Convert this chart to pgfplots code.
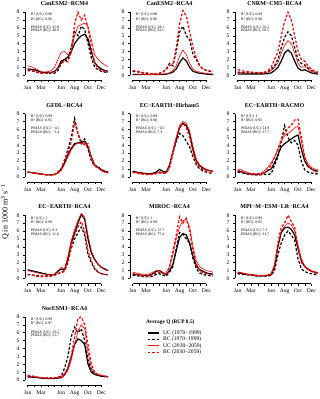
\documentclass[border=0pt]{standalone}
\usepackage{fontspec}
\setmainfont{Liberation Serif}
\usepackage{pgfplots}
\usepackage{pgfplotstable}
\pgfplotsset{compat=1.18}

% columns: month position (1 = 1 Jan, 13 = 31 Dec), UC/BC 1970-1999, UC/BC 2030-2059
\pgfplotstableread{
m uc1 bc1 uc2 bc2
1 0.80 0.60 1.20 0.70
1.5 0.75 0.55 1.10 0.60
2 0.70 0.50 0.90 0.50
2.5 0.55 0.35 0.70 0.35
3 0.40 0.25 0.45 0.30
3.5 0.35 0.30 0.40 0.25
4 0.35 0.20 0.45 0.30
4.5 0.35 0.30 0.60 0.35
5 0.50 0.25 1.00 0.40
5.5 0.90 0.60 2.00 0.90
6 1.80 1.50 2.90 1.60
6.5 2.00 1.80 3.00 1.80
7 2.30 2.00 2.60 1.70
7.5 3.00 3.50 2.80 3.00
8 4.00 5.50 5.00 6.50
8.5 4.60 5.00 6.20 8.00
9 5.00 6.20 6.40 7.00
9.5 5.20 5.80 6.60 7.60
10 4.60 4.00 6.20 6.00
10.5 3.00 2.20 4.50 3.50
11 1.60 1.00 2.60 1.50
11.5 1.10 0.70 2.00 0.90
12 0.80 0.50 1.60 0.60
12.5 0.60 0.40 1.30 0.50
13 0.50 0.35 1.10 0.40
}\tA
\pgfplotstableread{
m uc1 bc1 uc2 bc2
1 0.10 0.50 0.15 0.60
1.5 0.10 0.45 0.15 0.55
2 0.10 0.40 0.12 0.45
2.5 0.10 0.30 0.12 0.35
3 0.08 0.25 0.10 0.30
3.5 0.08 0.20 0.10 0.25
4 0.08 0.20 0.10 0.20
4.5 0.08 0.20 0.10 0.20
5 0.10 0.25 0.12 0.25
5.5 0.10 0.40 0.15 0.40
6 0.15 0.80 0.20 0.70
6.5 0.25 1.50 0.30 1.20
7 0.40 1.20 0.60 1.40
7.5 0.80 3.00 1.20 3.50
8 1.60 5.50 2.40 6.50
8.5 2.20 6.20 3.20 8.20
9 1.80 5.00 2.60 7.50
9.5 1.00 4.50 1.50 5.50
10 0.50 2.60 0.80 3.50
10.5 0.35 2.00 0.50 2.20
11 0.25 1.20 0.40 1.20
11.5 0.20 0.80 0.30 0.80
12 0.15 0.60 0.25 0.60
12.5 0.10 0.50 0.20 0.55
13 0.10 0.45 0.15 0.50
}\tB
\pgfplotstableread{
m uc1 bc1 uc2 bc2
1 0.15 0.40 0.35 0.70
1.5 0.15 0.35 0.33 0.60
2 0.15 0.30 0.30 0.50
2.5 0.15 0.28 0.30 0.45
3 0.15 0.25 0.30 0.40
3.5 0.15 0.25 0.30 0.35
4 0.15 0.25 0.30 0.35
4.5 0.15 0.25 0.30 0.35
5 0.18 0.28 0.32 0.40
5.5 0.20 0.35 0.40 0.60
6 0.30 0.70 0.60 1.00
6.5 0.60 1.20 1.00 2.00
7 1.00 2.00 1.60 3.00
7.5 1.80 3.50 2.80 5.00
8 2.80 4.80 3.80 6.80
8.5 3.20 5.50 4.40 8.00
9 2.80 5.00 4.00 7.00
9.5 1.80 3.50 2.80 5.00
10 0.90 2.00 1.50 3.00
10.5 0.60 1.50 1.00 2.00
11 0.70 1.30 1.10 1.80
11.5 0.50 0.90 0.80 1.20
12 0.30 0.60 0.50 0.80
12.5 0.20 0.40 0.35 0.50
13 0.15 0.30 0.30 0.40
}\tC
\pgfplotstableread{
m uc1 bc1 uc2 bc2
1 0.60 0.60 0.55 0.60
1.5 0.55 0.55 0.52 0.55
2 0.50 0.50 0.48 0.50
2.5 0.42 0.42 0.40 0.42
3 0.35 0.35 0.35 0.35
3.5 0.30 0.30 0.30 0.30
4 0.25 0.25 0.25 0.25
4.5 0.25 0.25 0.25 0.25
5 0.30 0.30 0.28 0.30
5.5 0.50 0.60 0.45 0.60
6 1.00 0.90 0.80 1.00
6.5 1.80 2.00 1.60 2.20
7 2.80 3.50 2.50 3.00
7.5 3.60 5.00 3.40 4.50
8 4.20 7.40 4.00 6.80
8.5 4.30 5.50 4.30 5.50
9 4.40 4.20 4.20 4.50
9.5 4.50 4.80 4.30 4.00
10 3.80 3.50 3.80 4.20
10.5 2.50 2.00 2.50 2.20
11 1.50 1.40 1.50 1.30
11.5 1.20 1.30 1.10 1.20
12 0.90 0.90 0.80 0.80
12.5 0.70 0.70 0.60 0.60
13 0.60 0.60 0.50 0.50
}\tD
\pgfplotstableread{
m uc1 bc1 uc2 bc2
1 0.70 0.60 0.60 0.55
1.5 0.62 0.55 0.55 0.50
2 0.55 0.45 0.50 0.42
2.5 0.48 0.38 0.42 0.35
3 0.42 0.32 0.38 0.30
3.5 0.40 0.30 0.35 0.30
4 0.45 0.35 0.40 0.32
4.5 0.60 0.45 0.50 0.40
5 0.95 0.55 0.65 0.50
5.5 0.70 0.45 0.55 0.45
6 0.60 0.50 0.50 0.50
6.5 1.50 1.20 1.40 1.20
7 3.20 3.00 3.30 3.00
7.5 4.80 4.50 5.00 4.80
8 6.20 5.50 6.50 6.30
8.5 6.80 5.20 7.00 6.80
9 6.50 4.50 6.80 6.20
9.5 5.50 3.80 5.80 5.00
10 3.50 2.50 3.80 3.00
10.5 2.00 1.50 2.20 1.80
11 1.40 1.00 1.50 1.20
11.5 1.10 0.75 1.20 0.90
12 0.90 0.60 0.90 0.70
12.5 0.80 0.50 0.80 0.60
13 0.70 0.40 0.70 0.50
}\tE
\pgfplotstableread{
m uc1 bc1 uc2 bc2
1 0.70 0.60 1.00 0.80
1.5 0.65 0.55 0.90 0.70
2 0.50 0.45 0.70 0.55
2.5 0.40 0.35 0.55 0.40
3 0.35 0.30 0.45 0.30
3.5 0.30 0.25 0.40 0.25
4 0.30 0.25 0.40 0.25
4.5 0.35 0.25 0.50 0.30
5 0.50 0.30 0.80 0.50
5.5 0.80 0.30 1.20 0.90
6 1.00 0.40 1.80 1.50
6.5 1.80 1.50 2.50 2.50
7 2.80 2.50 3.50 3.50
7.5 3.80 4.50 4.50 4.80
8 4.20 6.50 5.20 5.50
8.5 4.50 5.00 5.50 6.20
9 4.80 4.30 5.80 6.50
9.5 5.10 4.60 6.20 7.20
10 5.30 4.00 6.40 7.30
10.5 3.50 2.00 4.50 5.00
11 2.00 0.90 2.50 2.50
11.5 1.30 0.60 1.60 1.40
12 1.00 0.50 1.20 1.00
12.5 0.80 0.40 1.00 0.70
13 0.70 0.35 0.90 0.60
}\tF
\pgfplotstableread{
m uc1 bc1 uc2 bc2
1 1.10 0.50 1.00 0.50
1.5 1.00 0.45 0.90 0.45
2 0.90 0.40 0.80 0.35
2.5 0.80 0.35 0.70 0.25
3 0.70 0.30 0.60 0.20
3.5 0.60 0.30 0.55 0.20
4 0.50 0.30 0.50 0.25
4.5 0.45 0.30 0.45 0.30
5 0.50 0.40 0.55 0.40
5.5 0.90 0.60 1.00 0.60
6 1.20 0.80 1.40 0.70
6.5 1.10 1.00 1.20 0.90
7 2.50 2.00 2.80 2.20
7.5 4.50 3.80 4.80 4.00
8 5.80 5.00 6.20 5.50
8.5 7.00 5.80 7.40 6.50
9 8.10 6.50 8.20 7.20
9.5 7.50 5.50 7.80 6.00
10 5.00 3.00 5.50 3.50
10.5 3.20 2.00 3.50 2.20
11 2.40 1.20 2.50 1.30
11.5 1.80 0.80 1.80 0.80
12 1.40 0.60 1.40 0.60
12.5 1.20 0.50 1.10 0.50
13 1.00 0.50 1.00 0.45
}\tG
\pgfplotstableread{
m uc1 bc1 uc2 bc2
1 0.55 0.40 0.80 0.60
1.5 0.50 0.35 0.70 0.55
2 0.45 0.30 0.60 0.45
2.5 0.40 0.25 0.55 0.35
3 0.35 0.20 0.50 0.30
3.5 0.40 0.20 0.60 0.30
4 0.60 0.30 0.80 0.50
4.5 0.90 0.50 1.00 0.70
5 1.00 0.60 1.00 0.80
5.5 0.70 0.40 0.80 0.60
6 0.50 0.30 0.80 0.50
6.5 1.00 0.80 1.50 1.50
7 1.80 1.50 3.00 3.50
7.5 3.50 3.80 5.00 5.50
8 5.20 5.80 6.50 7.80
8.5 5.70 5.60 7.30 7.00
9 5.50 5.00 7.50 7.60
9.5 4.50 4.50 6.50 6.00
10 2.80 2.50 4.00 3.50
10.5 1.60 1.20 2.20 1.80
11 1.10 0.70 1.50 1.00
11.5 0.90 0.50 1.20 0.70
12 0.70 0.40 1.00 0.60
12.5 0.60 0.35 0.90 0.50
13 0.55 0.30 0.80 0.45
}\tH
\pgfplotstableread{
m uc1 bc1 uc2 bc2
1 0.70 0.60 0.80 0.80
1.5 0.65 0.55 0.75 0.70
2 0.55 0.50 0.65 0.60
2.5 0.50 0.45 0.55 0.50
3 0.45 0.40 0.50 0.45
3.5 0.40 0.35 0.45 0.40
4 0.35 0.30 0.40 0.35
4.5 0.35 0.30 0.40 0.35
5 0.35 0.30 0.40 0.35
5.5 0.40 0.30 0.45 0.40
6 0.50 0.40 0.60 0.50
6.5 1.50 1.00 1.80 1.50
7 4.00 3.00 4.20 4.50
7.5 5.80 4.50 6.00 6.50
8 6.40 5.50 6.60 7.00
8.5 6.50 6.00 7.00 8.00
9 6.20 5.50 6.80 7.20
9.5 5.50 4.80 6.00 6.50
10 3.80 2.50 4.20 4.00
10.5 2.20 1.20 2.50 2.00
11 1.50 0.90 1.60 1.50
11.5 1.20 0.70 1.20 1.10
12 0.90 0.60 1.00 0.90
12.5 0.80 0.50 0.85 0.70
13 0.70 0.45 0.75 0.60
}\tI
\pgfplotstableread{
m uc1 bc1 uc2 bc2
1 0.40 0.50 0.50 0.60
1.5 0.38 0.45 0.45 0.55
2 0.35 0.40 0.40 0.45
2.5 0.30 0.35 0.35 0.35
3 0.25 0.30 0.30 0.30
3.5 0.20 0.25 0.28 0.25
4 0.20 0.25 0.25 0.25
4.5 0.20 0.25 0.25 0.25
5 0.20 0.28 0.25 0.30
5.5 0.25 0.35 0.28 0.35
6 0.30 0.50 0.30 0.40
6.5 0.70 1.50 0.60 0.80
7 1.50 3.00 1.20 1.50
7.5 3.00 5.50 2.50 3.00
8 4.50 6.70 4.50 5.50
8.5 5.20 6.00 6.20 7.80
9 5.00 6.50 7.00 8.00
9.5 4.50 5.00 6.50 7.00
10 2.00 2.50 3.50 4.50
10.5 1.00 1.20 1.50 2.00
11 0.70 0.80 0.90 1.00
11.5 0.60 0.60 0.70 0.70
12 0.50 0.50 0.60 0.60
12.5 0.45 0.45 0.50 0.50
13 0.40 0.40 0.45 0.45
}\tJ

\newcommand{\ticksz}{\fontsize{5.6}{6}\selectfont}
\newcommand{\annsz}{\fontsize{3.8}{4}\selectfont}

\pgfplotsset{
  qpanel/.style={
    scale only axis, width=85.8bp, height=71.5bp,
    xmin=0.6, xmax=13.4, ymin=-0.65, ymax=8.4,
    axis x line*=bottom, axis y line*=left,
    axis line style={draw=none},
    clip=false,
    xtick={1,...,12},
    xticklabels={Jan,,Mar,,,Jun,,Aug,,Oct,,Dec},
    ytick={0,...,8},
    tick align=outside, major tick length=2bp,
    tick style={black, line width=0.4bp},
    /pgf/number format/assume math mode=true,
    ticklabel style={font=\ticksz, inner sep=0pt},
    xticklabel style={yshift=-3.5bp},
    yticklabel style={xshift=-3.5bp},
    every axis title/.style={font=\bfseries\fontsize{6}{7}\selectfont,
      at={(axis description cs:0.46,1)}, anchor=base, inner sep=0pt, yshift=3.5bp},
  },
  uc1/.style={black, line width=1.2bp},
  bc1/.style={black, line width=1.2bp, dash pattern=on 2.6bp off 1.8bp},
  uc2/.style={red, line width=0.6bp},
  bc2/.style={red, line width=1.2bp, dash pattern=on 2.6bp off 1.8bp},
}

% #1 extra options, #2 x, #3 y, #4 title, #5 table, #6-#9 statistics
\newcommand{\qpanel}[9]{%
\begin{axis}[qpanel, at={(#2bp,#3bp)}, anchor=south west, title={#4}, #1]
  \addplot[uc1] table[x=m, y=uc1] {#5};
  \addplot[bc1] table[x=m, y=bc1] {#5};
  \addplot[uc2] table[x=m, y=uc2] {#5};
  \addplot[bc2] table[x=m, y=bc2] {#5};
  \draw[line width=0.4bp] (axis cs:0.6,0) -- (axis cs:0.6,8);
  \draw[line width=0.4bp] (axis cs:1,-0.65) -- (axis cs:12,-0.65);
  \node[anchor=west, inner sep=0pt, font=\annsz] at (axis cs:1.5,7.62) {R² (UC): #6};
  \node[anchor=west, inner sep=0pt, font=\annsz] at (axis cs:1.5,7.11) {R² (BC): #7};
  \node[anchor=west, inner sep=0pt, font=\annsz] at (axis cs:1.5,6.06) {PBIAS (UC): #8};
  \node[anchor=west, inner sep=0pt, font=\annsz] at (axis cs:1.5,5.6) {PBIAS (BC): #9};
\end{axis}}

\begin{document}
\begin{tikzpicture}
\useasboundingbox (0,0) rectangle (320bp,-399bp);

\qpanel{}{25}{-80.4}{CanESM2−RCM4}{\tA}{0.98}{0.92}{45.9}{40.9}
\qpanel{}{130}{-80.4}{CanESM2−RCA4}{\tB}{0.98}{0.96}{28.1}{22.1}
\qpanel{}{235}{-80.4}{CNRM−CM5−RCA4}{\tC}{0.99}{0.98}{50.1}{50.5}
\qpanel{}{25}{-182.0}{GFDL−RCA4}{\tD}{0.99}{0.95}{−4.1}{−3.4}
\qpanel{}{130}{-182.0}{EC−EARTH−Hirham5}{\tE}{0.99}{0.98}{−0.5}{7.3}
\qpanel{}{235}{-182.0}{EC−EARTH−RACMO}{\tF}{1}{0.93}{24.9}{27.7}
\qpanel{}{25}{-283.6}{EC−EARTH−RCA4}{\tG}{1}{0.99}{8.3}{11.6}
\qpanel{}{130}{-283.6}{MIROC−RCA4}{\tH}{1}{0.99}{37.7}{77.4}
\qpanel{}{235}{-283.6}{MPI−M−ESM−LR−RCA4}{\tI}{0.99}{0.95}{7.3}{21.7}
\qpanel{legend entries={UC (1970−1999), BC (1970−1999), UC (2030−2059), BC (2030−2059)},
  legend cell align=left,
  legend image code/.code={\draw[#1] (0bp,0bp) -- (11bp,0bp);},
  legend style={at={(axis description cs:1.422,0.778)}, anchor=north west,
    draw=none, fill=none, inner sep=0pt, row sep=0pt, column sep=3.5bp,
    font=\fontsize{5.6}{6}\selectfont,
    nodes={inner sep=0.3bp, text height=4.4bp, text depth=1.4bp}}}%
  {25}{-385.2}{NorESM1−RCA4}{\tJ}{0.99}{0.97}{29.1}{21.7}

\node[anchor=west, inner sep=0pt, font=\bfseries\fontsize{5.4}{6}\selectfont]
  at (146bp,-322bp) {Average Q (RCP 8.5)};
\node[rotate=90, inner sep=0pt, font=\fontsize{8}{9}\selectfont]
  at (5bp,-212bp) {Q in 1000 m\textsuperscript{3} s\textsuperscript{−1}};
\end{tikzpicture}
\end{document}
